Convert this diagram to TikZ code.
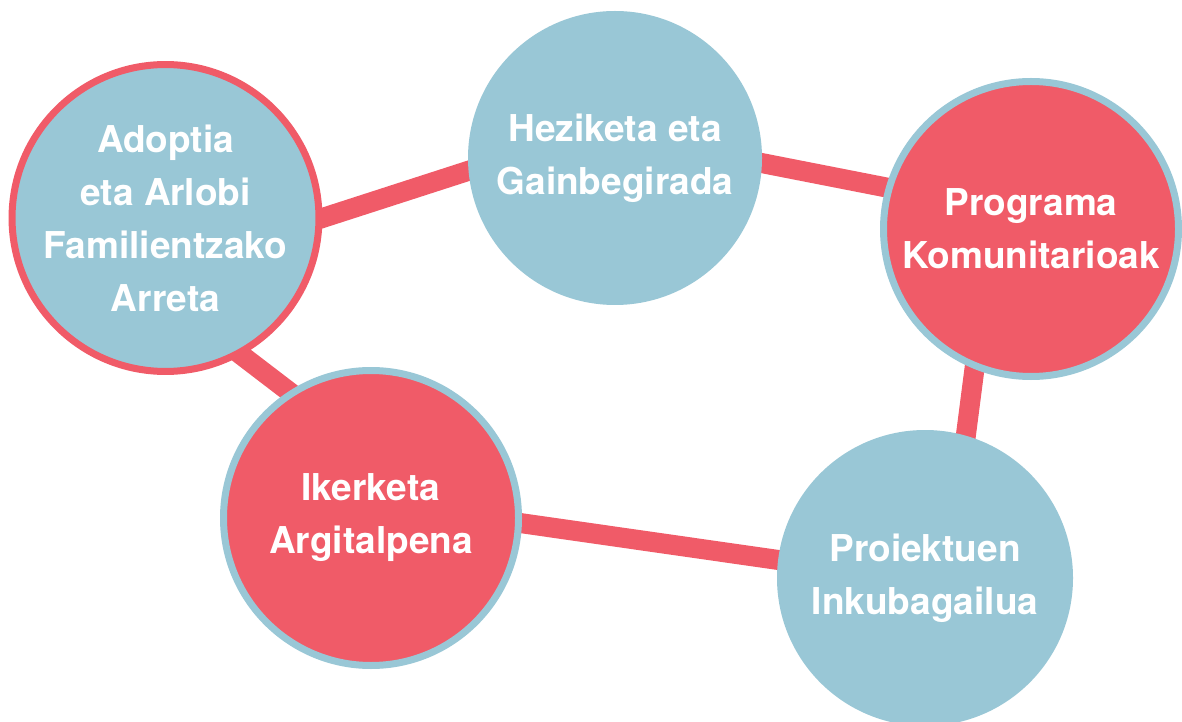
\documentclass[tikz,border=0pt]{standalone}
\usepackage{fontspec}
\setmainfont{TeX Gyre Heros}
\usetikzlibrary{backgrounds}
\definecolor{bubbleblue}{RGB}{153,199,214}
\definecolor{bubblered}{RGB}{240,91,104}

\begin{document}
\begin{tikzpicture}[x=1pt, y=1pt,
    blob/.style={circle, inner sep=0pt, align=center, text=white,
        font=\fontsize{37}{53}\selectfont\bfseries},
    link/.style={bubblered, line width=20pt, shorten <=-12pt, shorten >=-12pt}]
    \useasboundingbox (0,0) rectangle (1182,721);
    \node[blob, fill=bubbleblue, draw=bubblered, line width=7pt, minimum size=305pt] (adop) at (165.5,503) {Adoptia\\eta Arlobi\\Familientzako\\Arreta};
    \node[blob, fill=bubbleblue, minimum size=294pt] (hezi) at (615,563) {Heziketa eta\\Gainbegirada};
    \node[blob, fill=bubblered, draw=bubbleblue, line width=7pt, minimum size=295pt] (prog) at (1031,492) {Programa\\Komunitarioak};
    \node[blob, fill=bubblered, draw=bubbleblue, line width=7pt, minimum size=295pt] (iker) at (371,203) {Ikerketa\\Argitalpena};
    \node[blob, fill=bubbleblue, minimum size=296pt] (proi) at (925,143) {Proiektuen\\Inkubagailua};
    \begin{scope}[on background layer]
        \fill[white] (0,0) rectangle (1182,721);
        \draw[link] (adop.0) -- (hezi.185);
        \draw[link] (hezi.-2) -- (prog.164);
        \draw[link] (prog.248) -- (proi.74);
        \draw[link] (iker.-2) -- (proi.173);
        \draw[link] (adop.-61) -- (iker.123);
    \end{scope}
\end{tikzpicture}
\end{document}
